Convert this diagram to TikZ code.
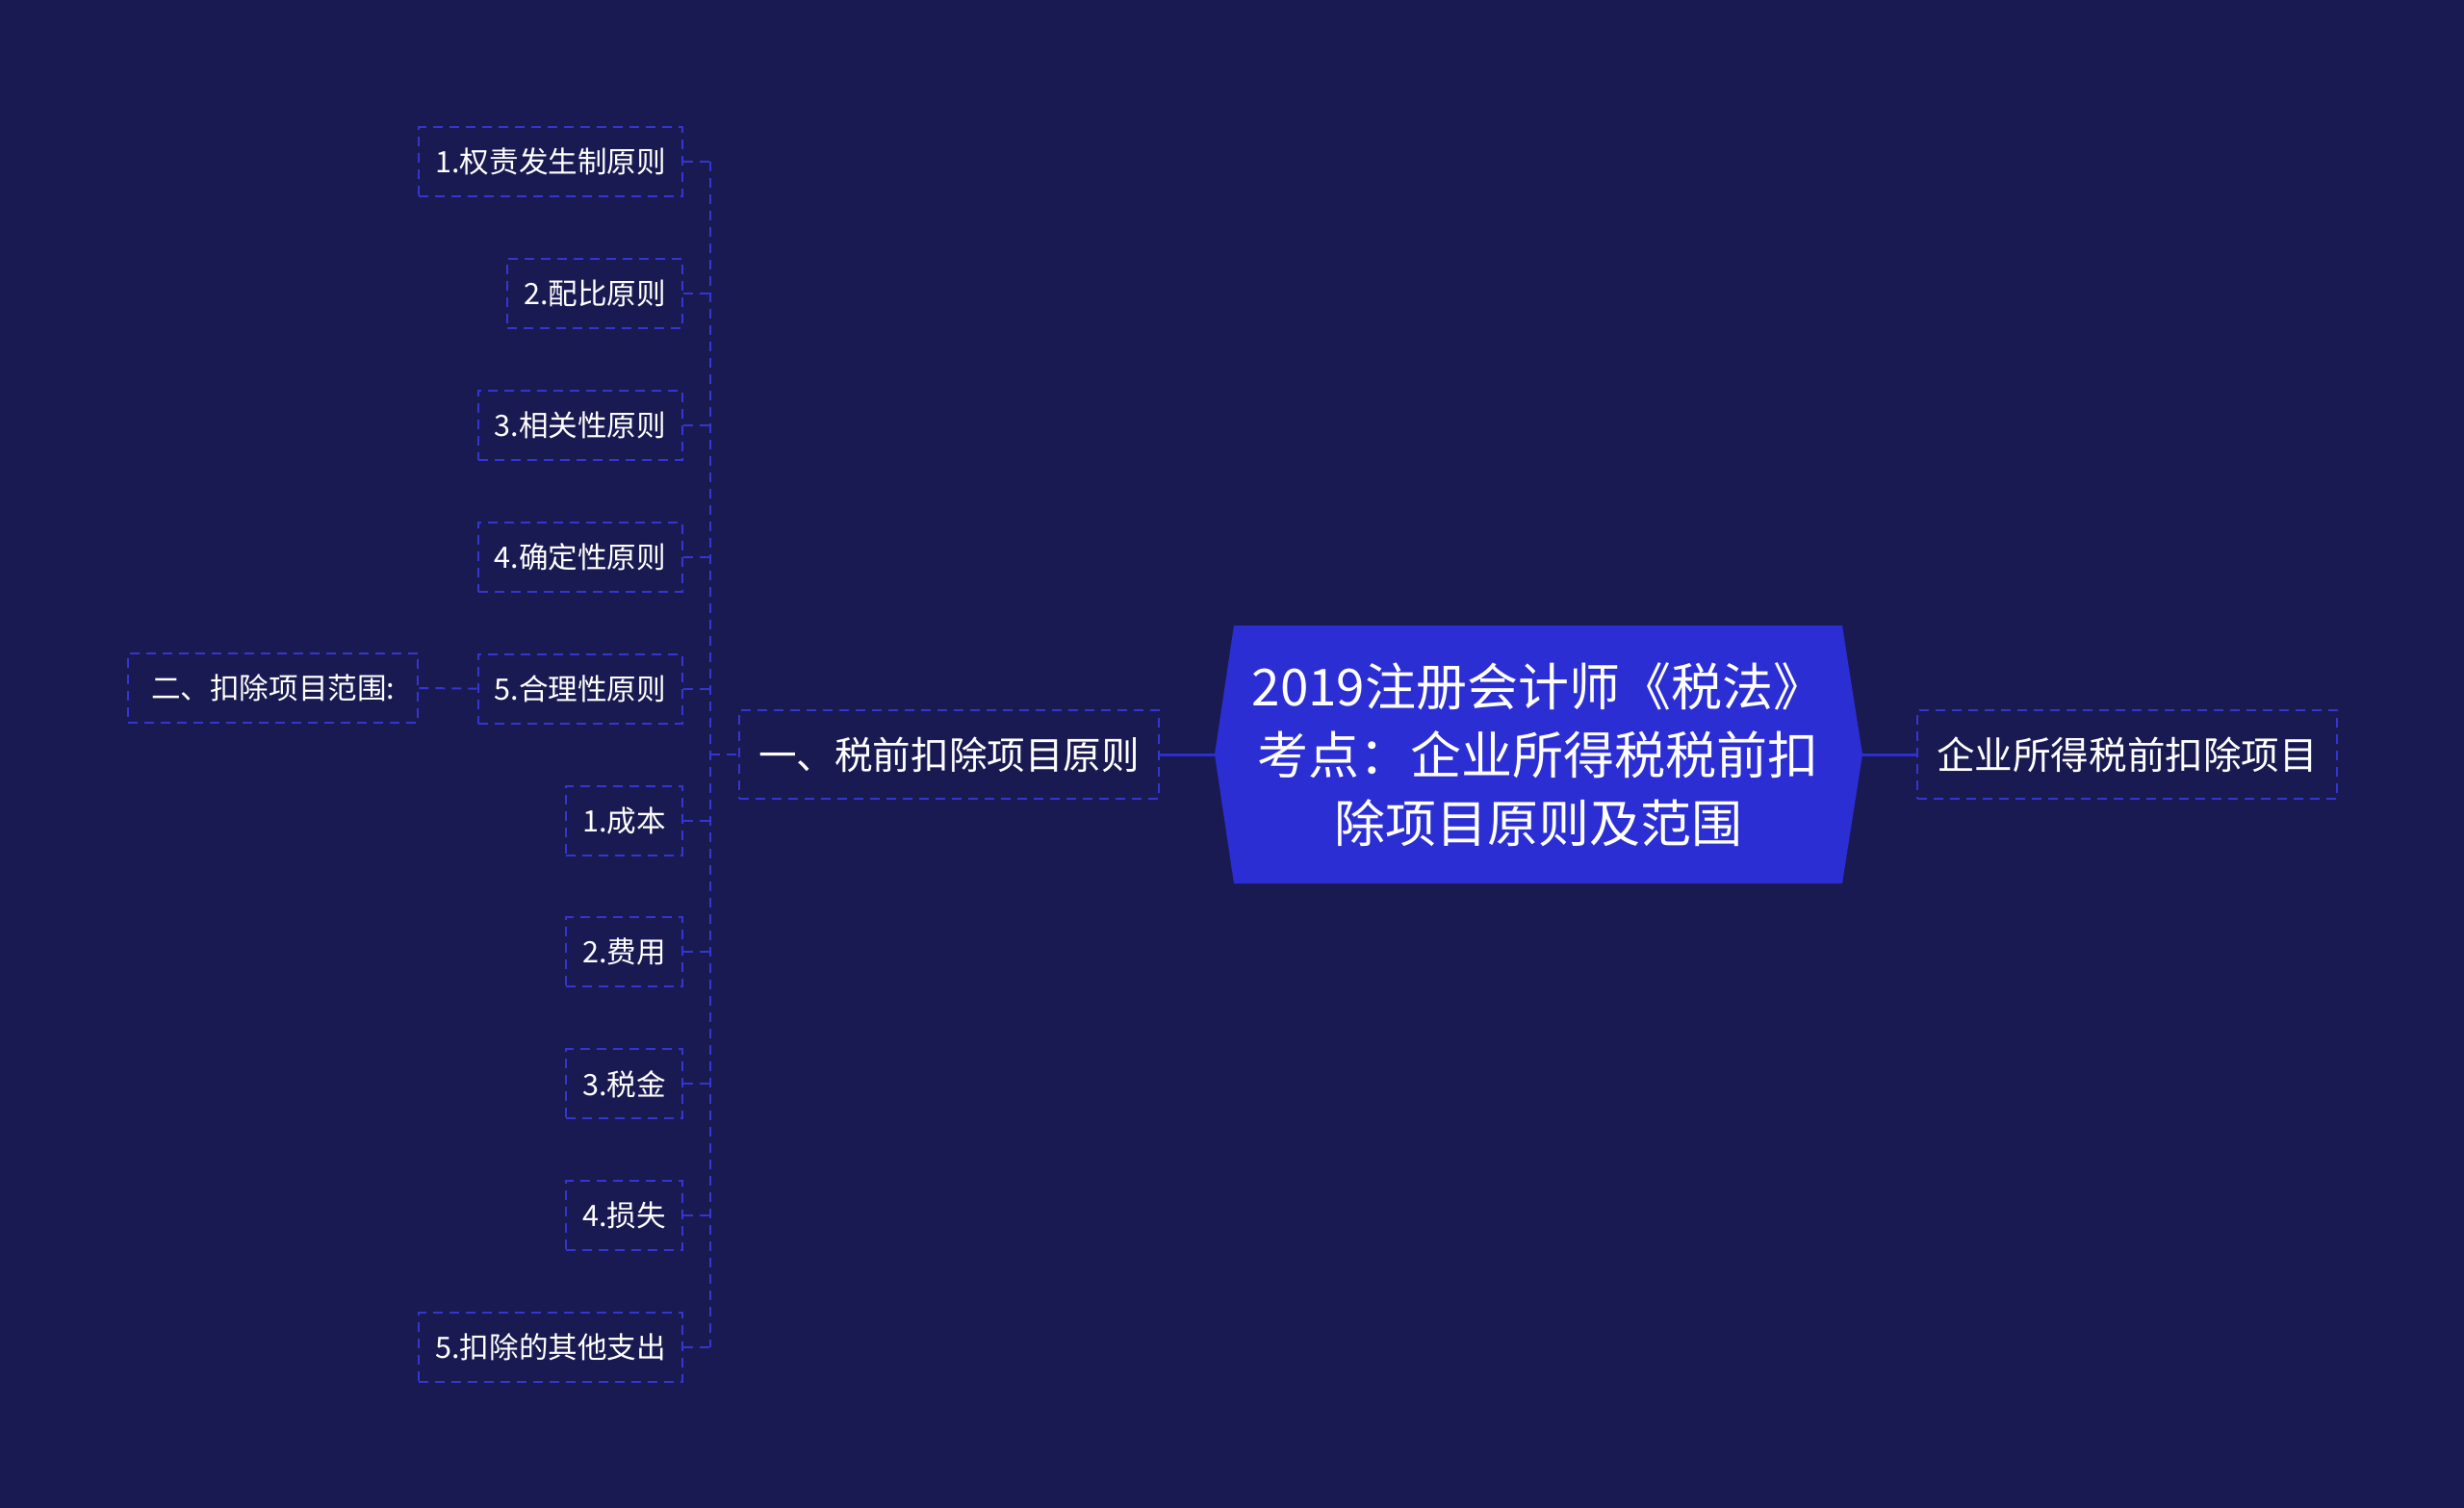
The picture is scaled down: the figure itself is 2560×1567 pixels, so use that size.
\documentclass[tikz,border=0pt]{standalone}
\usepackage{fontspec}
\setmainfont{Noto Sans CJK SC}
\definecolor{bg}{HTML}{1A1A52}
\definecolor{mapblue}{HTML}{2B2ED2}
\definecolor{edge}{HTML}{3535D2}

\begin{document}
\begin{tikzpicture}[
    x=0.5pt, y=-0.5pt,
    leaf/.style={draw=edge, line width=1pt, dash pattern=on 5pt off 3.5pt, text=white,
                 font=\fontsize{15.3}{18}\selectfont, minimum height=36pt, inner xsep=8.5pt, anchor=east},
    topic/.style={draw=edge, line width=1pt, dash pattern=on 5pt off 3.5pt, text=white,
                 font=\fontsize{19.8}{24}\selectfont, minimum height=46pt, inner xsep=10pt},
    roottext/.style={text=white, align=center, font=\fontsize{26.5}{35.5}\selectfont},
    stub/.style={draw=edge, line width=1pt, dash pattern=on 5pt off 3.5pt},
    link/.style={draw=mapblue, line width=1.5pt}
]
% Canvas
\fill[bg] (0,0) rectangle (2560,1567);
\useasboundingbox (0,0) rectangle (2560,1567);

% Root hexagon
\def\rl{1262} \def\rr{1935} \def\rt{650} \def\rb{918} \def\rc{784}
\fill[mapblue] (\rl,\rc) -- (1282,\rt) -- (1914,\rt) -- (\rr,\rc) -- (1914,\rb) -- (1282,\rb) -- cycle;
\coordinate (rootW) at (\rl,\rc);
\coordinate (rootE) at (\rr,\rc);
\node[roottext] (root) at (1598,\rc) {2019注册会计师《税法》\\考点：企业所得税税前扣\\除项目原则及范围};

% First level
\node[topic, anchor=west] (topic) at (767,\rc) {一、税前扣除项目原则};
\node[topic, anchor=west] (items) at (1991,\rc) {企业所得税前扣除项目};
\draw[link] (topic.east) -- (rootW);
\draw[link] (rootE) -- (items.west);

% Leaves
\coordinate (trunk) at (738,\rc);
\foreach \name/\txt [count=\i] in {p1/1.权责发生制原则, p2/2.配比原则, p3/3.相关性原则,
    p4/4.确定性原则, p5/5.合理性原则, q1/1.成本, q2/2.费用, q3/3.税金, q4/4.损失,
    q5/5.扣除的其他支出}{
  \node[leaf] (\name) at (710,{168+(\i-1)*136.9}) {\txt};
  \draw[stub] (\name.east) -- (\name.east -| trunk);
}
\draw[stub] (p1.east -| trunk) -- (q5.east -| trunk);
\draw[stub] (trunk) -- (topic.west);

% Range
\node[leaf, anchor=west, inner xsep=12pt] (range) at (132,715) {二、扣除项目范围:};
\draw[stub] (range.east) -- (p5.west);

\end{tikzpicture}
\end{document}
